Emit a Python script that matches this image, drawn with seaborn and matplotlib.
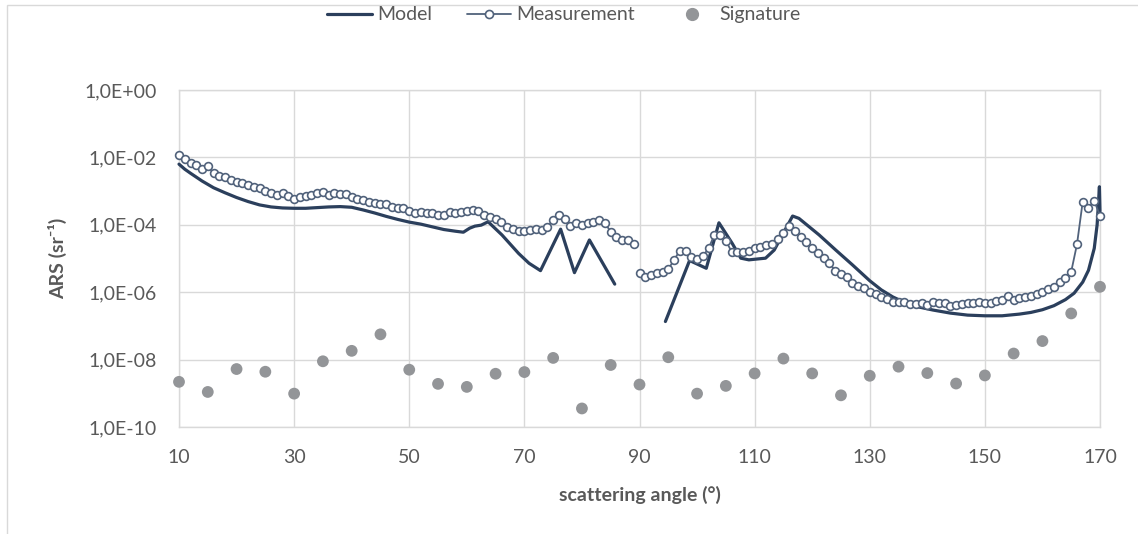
import numpy as np
import pandas as pd
import matplotlib
matplotlib.use("Agg")
import matplotlib.pyplot as plt
import seaborn as sns
from matplotlib.lines import Line2D
from matplotlib.patches import Rectangle
from matplotlib.ticker import FixedLocator, FuncFormatter, NullLocator

# ARS values, stored as powers of ten (log10 of sr^-1)

# Measurement: 1 degree steps, gap between 89 and 90
meas_deg_1 = list(range(10, 90))
meas_exp_1 = [
    -1.93, -2.05, -2.16, -2.23, -2.35, -2.26, -2.47, -2.54, -2.59, -2.67,
    -2.72, -2.75, -2.82, -2.87, -2.92, -2.99, -3.07, -3.12, -3.07, -3.15,
    -3.24, -3.17, -3.15, -3.12, -3.07, -3.02, -3.12, -3.05, -3.10, -3.09,
    -3.17, -3.22, -3.26, -3.32, -3.36, -3.39, -3.38, -3.46, -3.51, -3.49,
    -3.60, -3.64, -3.61, -3.66, -3.66, -3.71, -3.71, -3.61, -3.66, -3.61,
    -3.58, -3.56, -3.58, -3.71, -3.76, -3.84, -3.91, -4.06, -4.12, -4.17,
    -4.17, -4.15, -4.13, -4.15, -4.07, -3.86, -3.71, -3.84, -4.04, -3.94,
    -4.01, -3.96, -3.91, -3.86, -3.96, -4.20, -4.35, -4.45, -4.45, -4.57,
]
meas_deg_2 = list(range(90, 171))
meas_exp_2 = [
    -5.42, -5.56, -5.49, -5.44, -5.39, -5.32, -5.04, -4.77, -4.77, -4.95,
    -5.02, -4.93, -4.70, -4.30, -4.30, -4.47, -4.80, -4.80, -4.80, -4.77,
    -4.70, -4.65, -4.60, -4.57, -4.43, -4.25, -4.04, -4.17, -4.35, -4.50,
    -4.70, -4.85, -4.99, -5.14, -5.36, -5.46, -5.56, -5.74, -5.82, -5.88,
    -6.00, -6.06, -6.13, -6.20, -6.28, -6.30, -6.28, -6.36, -6.36, -6.33,
    -6.38, -6.28, -6.33, -6.33, -6.40, -6.38, -6.36, -6.33, -6.33, -6.28,
    -6.33, -6.33, -6.26, -6.23, -6.10, -6.23, -6.16, -6.13, -6.10, -6.06,
    -5.98, -5.91, -5.84, -5.71, -5.57, -5.39, -4.58, -3.31, -3.49, -3.29,
    -3.73,
]

# Model: two pieces, no values between ~86 and ~94 degrees
model_deg_1 = [10, 11, 12, 14, 16, 18, 20, 22, 24, 26, 28, 30, 32, 34, 36, 38,
               40, 42, 44, 46, 48, 50, 52, 54, 56, 58, 59.4, 60.5, 61.4, 62.5,
               63.7, 66.1, 69.0, 70.8, 72.8, 76.3, 78.7, 81.3, 85.7]
model_exp_1 = [-2.20, -2.35, -2.47, -2.70, -2.90, -3.05, -3.19, -3.31, -3.41,
               -3.47, -3.50, -3.51, -3.51, -3.49, -3.47, -3.46, -3.48, -3.56,
               -3.65, -3.75, -3.84, -3.92, -3.98, -4.06, -4.14, -4.19, -4.22,
               -4.10, -4.04, -4.01, -3.91, -4.30, -4.85, -5.14, -5.36, -4.13,
               -5.42, -4.45, -5.76]
model_deg_2 = [94.5, 98.7, 101.6, 103.8, 106.1, 107.6, 109.0, 111.9, 113.4,
               116.6, 117.7, 121.2, 124.1, 127.0, 130.0, 132.0, 134.0, 136.0,
               138.0, 141.0, 144.0, 147.0, 150.0, 153.0, 156.0, 158.0, 160.0,
               162.0, 164.0, 165.5, 167.0, 168.0, 169.0, 169.5, 169.9, 170.0]
model_exp_2 = [-6.87, -5.06, -5.29, -3.94, -4.55, -4.99, -5.04, -4.99, -4.75,
               -3.74, -3.81, -4.30, -4.75, -5.19, -5.66, -5.93, -6.14, -6.30,
               -6.42, -6.53, -6.62, -6.68, -6.70, -6.70, -6.65, -6.60, -6.52,
               -6.40, -6.22, -6.03, -5.70, -5.35, -4.70, -4.00, -2.87, -3.60]

# Signature: every 5 degrees
sig_deg = list(range(10, 171, 5))
sig_exp = [-8.66, -8.96, -8.28, -8.36, -9.01, -8.05, -7.74, -7.25, -8.30,
           -8.72, -8.81, -8.42, -8.37, -7.95, -9.45, -8.16, -8.74, -7.93,
           -9.01, -8.78, -8.41, -7.97, -8.41, -9.06, -8.48, -8.21, -8.40,
           -8.71, -8.47, -7.82, -7.45, -6.63, -5.84]

x_ticks = [10, 30, 50, 70, 90, 110, 130, 150, 170]
y_tick_exps = [0, -2, -4, -6, -8, -10]

MODEL_COLOR = "#2B3F5C"
MEAS_COLOR = "#51627B"
SIG_COLOR = "#939598"
TEXT_COLOR = "#595959"
GRID_COLOR = "#D9D9D9"


def to_frame(deg_parts, exp_parts):
    """Stack pieces of a series into one frame, one segment id per piece"""
    frames = []
    for i, (deg, exp) in enumerate(zip(deg_parts, exp_parts)):
        frames.append(pd.DataFrame({
            "angle": deg,
            "ars": 10.0 ** np.asarray(exp),
            "segment": i,
        }))
    return pd.concat(frames, ignore_index=True)


model = to_frame([model_deg_1, model_deg_2], [model_exp_1, model_exp_2])
meas = to_frame([meas_deg_1, meas_deg_2], [meas_exp_1, meas_exp_2])
sig = pd.DataFrame({"angle": sig_deg, "ars": 10.0 ** np.asarray(sig_exp)})

sns.set_style("white")
plt.rcParams["font.family"] = ["Lato", "DejaVu Sans"]

fig = plt.figure(figsize=(11.38, 5.34), dpi=100)
ax = fig.add_axes([179 / 1138, 1 - 427 / 534, 921 / 1138, 337 / 534])
ax.set_yscale("log")

sns.scatterplot(data=sig, x="angle", y="ars", color=SIG_COLOR, s=72,
                edgecolor="none", clip_on=False, zorder=3, ax=ax)
sns.lineplot(data=model, x="angle", y="ars", units="segment", estimator=None,
             color=MODEL_COLOR, lw=2.3, zorder=4, clip_on=False, ax=ax)
sns.lineplot(data=meas, x="angle", y="ars", units="segment", estimator=None,
             color=MEAS_COLOR, lw=1.3, marker="o", markersize=5.6,
             markerfacecolor="white", markeredgecolor=MEAS_COLOR,
             markeredgewidth=1.2, zorder=5, clip_on=False, ax=ax)

ax.set_xlim(10, 170)
ax.set_ylim(1e-10, 1.0)
ax.xaxis.set_major_locator(FixedLocator(x_ticks))
ax.yaxis.set_major_locator(FixedLocator([10.0 ** e for e in y_tick_exps]))
ax.yaxis.set_minor_locator(NullLocator())
ax.yaxis.set_major_formatter(
    FuncFormatter(lambda v, pos: "1,0E{:+03d}".format(int(round(np.log10(v))))))

ax.grid(True, color=GRID_COLOR, lw=1.0)
ax.set_axisbelow(True)
for side in ax.spines.values():
    side.set_color(GRID_COLOR)
    side.set_linewidth(1.0)
ax.tick_params(axis="both", length=0, pad=16, labelsize=14, labelcolor=TEXT_COLOR)

ax.set_xlabel("scattering angle (°)", fontsize=14, fontweight="bold", color=TEXT_COLOR)
ax.set_ylabel("ARS (sr⁻¹)", fontsize=14, fontweight="bold", color=TEXT_COLOR)
ax.xaxis.set_label_coords(0.5, -0.175)
ax.yaxis.set_label_coords(-0.1216, 0.5)

handles = [
    Line2D([], [], color=MODEL_COLOR, lw=2.3),
    Line2D([], [], color=MEAS_COLOR, lw=1.3, marker="o", markersize=5.8,
           markerfacecolor="white", markeredgecolor=MEAS_COLOR, markeredgewidth=1.2),
    Line2D([], [], ls="none", marker="o", markersize=8.5, color=SIG_COLOR),
]
fig.legend(handles, ["Model", "Measurement", "Signature"], loc="center",
           bbox_to_anchor=(0.4956, 0.972), ncol=3, frameon=False, fontsize=14,
           handlelength=2.3, columnspacing=1.8, handletextpad=0.25,
           labelcolor=TEXT_COLOR)

# light frame of the chart area
fig.patches.append(Rectangle((7 / 1138, -0.05), 1.2, 1.05 - 5 / 534,
                             transform=fig.transFigure, fill=False,
                             ec=GRID_COLOR, lw=1.0))

fig.savefig("out.png", dpi=100)
plt.close(fig)
